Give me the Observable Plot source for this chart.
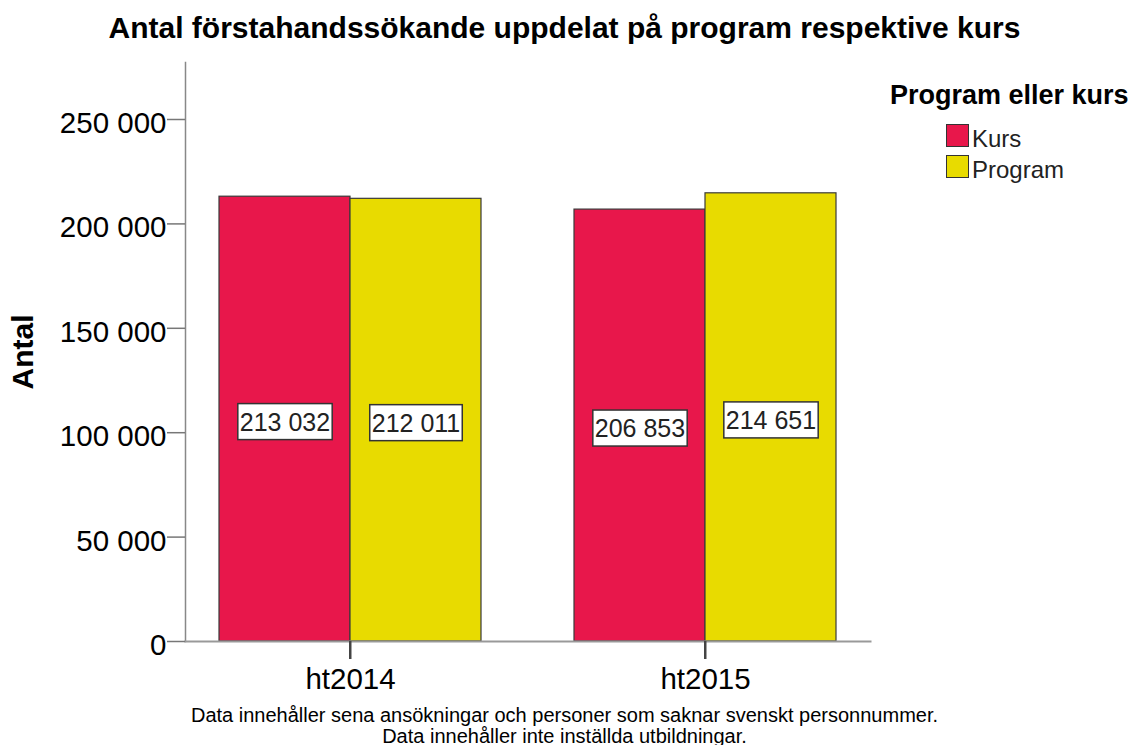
<!DOCTYPE html>
<html>
<head>
<meta charset="utf-8">
<script src="https://cdn.jsdelivr.net/npm/d3@7"></script>
<script src="https://cdn.jsdelivr.net/npm/@observablehq/plot@0.6"></script>
<style>
  html, body { margin: 0; padding: 0; background: #fff; }
  body { width: 1129px; height: 745px; overflow: hidden; font-family: "Liberation Sans", Arial, sans-serif; }
  #wrap { position: relative; width: 1129px; height: 745px; }
  #title { height: 56px; line-height: 56px; text-align: center; font-weight: bold; font-size: 30px; color: #000; white-space: nowrap; }
  #chart { position: relative; width: 1129px; height: 644px; }
  #chart svg { position: absolute; left: 0; top: 0; }
  #caption { text-align: center; font-size: 20px; line-height: 21px; padding-top: 5px; color: #000; white-space: nowrap; }
  .legend-title { position: absolute; left: 890px; top: 82px; font-size: 27px; line-height: 27px; font-weight: bold; white-space: nowrap; }
  .sw { position: absolute; left: 946px; width: 21px; height: 21px; border: 1.5px solid #333; }
  .lt { position: absolute; left: 972px; font-size: 24px; line-height: 24px; color: #222; white-space: nowrap; }
</style>
</head>
<body>
<div id="wrap">
  <div id="title"></div>
  <div id="chart"></div>
  <div id="caption"></div>
</div>
<script>
const titleText = "Antal förstahandssökande uppdelat på program respektive kurs";
const captionLines = [
  "Data innehåller sena ansökningar och personer som saknar svenskt personnummer.",
  "Data innehåller inte inställda utbildningar."
];
const years = ["ht2014", "ht2015"];
const types = ["Kurs", "Program"];
const kurs = [213032, 206853];
const program = [212011, 214651];
const colors = ["#e8174b", "#e8db00"];
const yTicks = [0, 50000, 100000, 150000, 200000, 250000];
const yMax = 277300;
const yLabel = "Antal";
const legendTitle = "Program eller kurs";

const data = years.flatMap((y, i) => [
  {year: y, type: types[0], value: kurs[i]},
  {year: y, type: types[1], value: program[i]}
]);

const fmt = d => d3.format(",")(d).replace(/,/g, " ");

document.getElementById("title").textContent = titleText;
document.getElementById("caption").innerHTML = captionLines.map(s => `<div>${s}</div>`).join("");

const dims = {
  width: 1129,
  height: 644,
  marginLeft: 185,
  marginRight: 259,
  marginTop: 6,
  marginBottom: 59
};
const groupPad = {paddingInner: 0.261, paddingOuter: 0.094};
const font = "'Liberation Sans', Arial, sans-serif";
const tickLen = 18;

// Bars (faceted by year)
const plot = Plot.plot({
  ...dims,
  style: {fontFamily: font, background: "white", overflow: "visible", color: "#000"},
  fx: {domain: years, ...groupPad, label: null, axis: null},
  x: {domain: types, padding: 0, axis: null},
  y: {domain: [0, yMax], axis: null},
  color: {domain: types, range: colors},
  marks: [
    Plot.barY(data, {fx: "year", x: "type", y: "value", fill: "type", stroke: "#3a3a3a", strokeWidth: 1.2}),
    Plot.text(data, {fx: "year", x: "type", y: d => d.value / 2, text: d => fmt(d.value), fontSize: 25, fill: "#222", dy: 3.5, className: "vlabel"})
  ]
});

// Axes overlay (full frame, not faceted)
const axes = Plot.plot({
  ...dims,
  style: {fontFamily: font, background: "transparent", overflow: "visible", color: "#000", pointerEvents: "none"},
  x: {type: "band", domain: years, ...groupPad, axis: null},
  y: {domain: [0, yMax], axis: null},
  marks: [
    Plot.frame({anchor: "left", stroke: "#888", strokeWidth: 1.5}),
    Plot.frame({anchor: "bottom", stroke: "#999", strokeWidth: 2}),
    Plot.axisX({anchor: "bottom", tickSize: tickLen, tickPadding: 9, fontSize: 29.5, stroke: "#444", strokeWidth: 2, fill: "#000", label: null}),
    Plot.axisY({ticks: yTicks, tickSize: tickLen, fill: "none", stroke: "#777", strokeWidth: 1.5, label: null}),
    Plot.axisY({ticks: yTicks, tickSize: tickLen, tickPadding: 1, stroke: "none", tickFormat: fmt, fontSize: 29.5, fill: "#000", dy: 4, label: null}),
    Plot.text([yLabel], {frameAnchor: "left", rotate: -90, dx: -162, textAnchor: "middle", lineAnchor: "middle", fontWeight: "bold", fontSize: 30, fill: "#000"})
  ]
});

const chart = document.getElementById("chart");
chart.appendChild(plot);
chart.appendChild(axes);

// category tick marks drawn from the overlay's own scales
{
  const xs = axes.scale("x");
  const y0 = axes.scale("y").apply(0);
  const bw = xs.bandwidth || 0;
  const g = d3.select(axes).append("g").attr("stroke", "#444").attr("stroke-width", 2);
  years.forEach(yr => {
    const cx = xs.apply(yr) + bw / 2;
    g.append("line").attr("x1", cx).attr("x2", cx).attr("y1", y0).attr("y2", y0 + tickLen);
  });
}

// white boxes behind value labels
d3.select(plot).selectAll(".vlabel text").each(function() {
  const b = this.getBBox();
  const r = document.createElementNS("http://www.w3.org/2000/svg", "rect");
  r.setAttribute("x", b.x - 2);
  r.setAttribute("y", b.y - 4);
  r.setAttribute("width", b.width + 4);
  r.setAttribute("height", b.height + 8);
  r.setAttribute("fill", "#fff");
  r.setAttribute("stroke", "#333");
  r.setAttribute("stroke-width", 1.5);
  const t = this.getAttribute("transform");
  if (t) r.setAttribute("transform", t);
  this.parentNode.insertBefore(r, this);
});

// legend
const wrap = document.getElementById("wrap");
const lt = document.createElement("div");
lt.className = "legend-title";
lt.textContent = legendTitle;
wrap.appendChild(lt);
const swTops = [124, 155];
types.forEach((t, i) => {
  const sw = document.createElement("div");
  sw.className = "sw";
  sw.style.top = swTops[i] + "px";
  sw.style.background = colors[i];
  wrap.appendChild(sw);
  const tx = document.createElement("div");
  tx.className = "lt";
  tx.style.top = (swTops[i] + 3) + "px";
  tx.textContent = t;
  wrap.appendChild(tx);
});
</script>
</body>
</html>
